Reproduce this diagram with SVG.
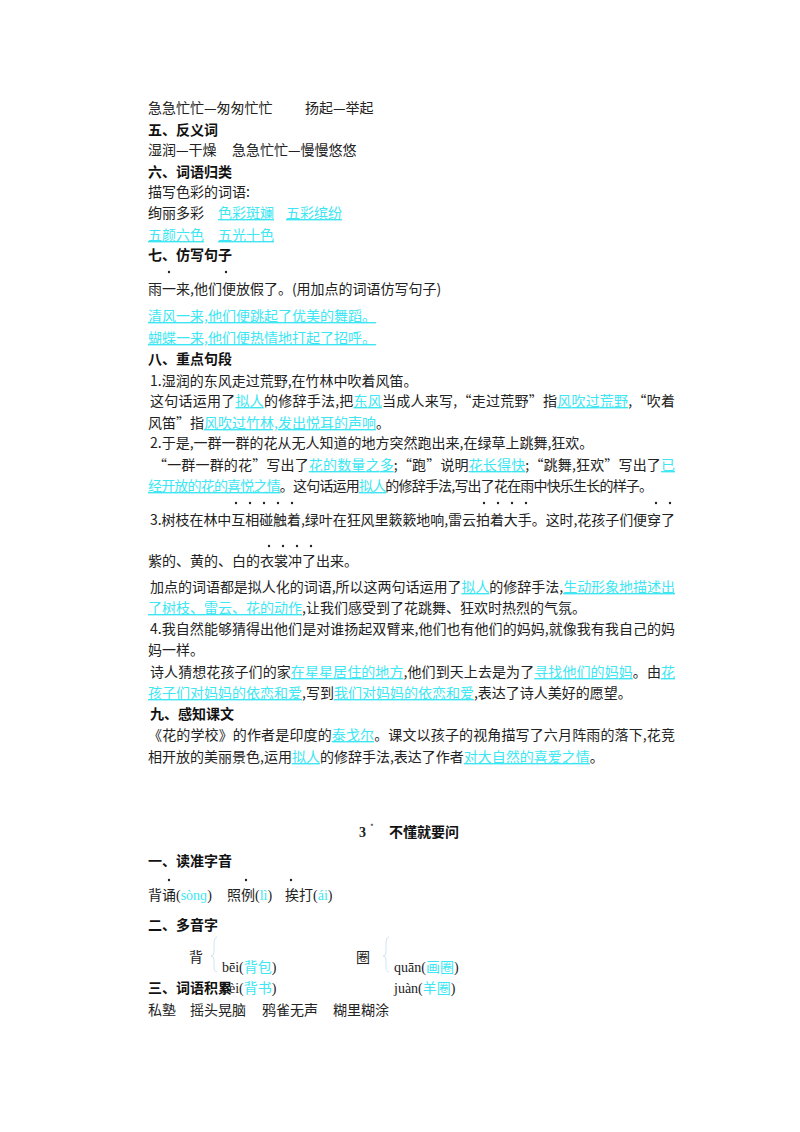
<svg xmlns="http://www.w3.org/2000/svg" width="800" height="1132" viewBox="0 0 800 1132">
<style>
text{font-family:"Noto Sans CJK SC","Liberation Sans",sans-serif;font-size:14px;fill:#222}
.h{font-weight:bold;fill:#111}
.c{fill:#3de6f2;text-decoration:underline}
.p{font-family:"Liberation Serif","Noto Sans CJK SC",serif}
.pc{fill:#3de6f2}
circle{fill:#222}
</style>
<rect width="800" height="1132" fill="#fff"/>
<text x="148" y="113">急急忙忙—匆匆忙忙<tspan x="305">扬起—举起</tspan></text>
<text class="h" x="148" y="135">五、反义词</text>
<text x="148" y="155">湿润—干燥<tspan x="232">急急忙忙—慢慢悠悠</tspan></text>
<text class="h" x="148" y="177">六、词语归类</text>
<text x="148" y="197">描写色彩的词语:</text>
<text x="148" y="218">绚丽多彩<tspan class="c" x="218">色彩斑斓</tspan><tspan class="c" x="286">五彩缤纷</tspan></text>
<text x="148" y="240"><tspan class="c">五颜六色</tspan><tspan class="c" x="218">五光十色</tspan></text>
<text class="h" x="148" y="260">七、仿写句子</text>
<circle cx="169" cy="272" r="1.2"/><circle cx="226" cy="272" r="1.2"/>
<text x="148" y="294">雨一来,他们便放假了。(用加点的词语仿写句子)</text>
<text class="c" x="148" y="321">清风一来,他们便跳起了优美的舞蹈。</text>
<text class="c" x="148" y="343">蝴蝶一来,他们便热情地打起了招呼。</text>
<text class="h" x="148" y="364">八、重点句段</text>
<text x="150" y="386">1.湿润的东风走过荒野,在竹林中吹着风笛。</text>
<text x="150" y="406" textLength="525" lengthAdjust="spacing">这句话运用了<tspan class="c">拟人</tspan>的修辞手法,把<tspan class="c">东风</tspan>当成人来写,“走过荒野”指<tspan class="c">风吹过荒野</tspan>,“吹着</text>
<text x="148" y="428">风笛”指<tspan class="c">风吹过竹林,发出悦耳的声响</tspan>。</text>
<text x="150" y="448">2.于是,一群一群的花从无人知道的地方突然跑出来,在绿草上跳舞,狂欢。</text>
<text x="153" y="470" textLength="522" lengthAdjust="spacing">“一群一群的花”写出了<tspan class="c">花的数量之多</tspan>;“跑”说明<tspan class="c">花长得快</tspan>;“跳舞,狂欢”写出了<tspan class="c">已</tspan></text>
<text x="148" y="491" textLength="505" lengthAdjust="spacing"><tspan class="c">经开放的花的喜悦之情</tspan>。这句话运用<tspan class="c">拟人</tspan>的修辞手法,写出了花在雨中快乐生长的样子。</text>
<g><circle cx="236" cy="503" r="1.2"/><circle cx="250" cy="503" r="1.2"/><circle cx="264" cy="503" r="1.2"/><circle cx="278" cy="503" r="1.2"/><circle cx="292" cy="503" r="1.2"/><circle cx="484" cy="503" r="1.2"/><circle cx="498" cy="503" r="1.2"/><circle cx="512" cy="503" r="1.2"/><circle cx="526" cy="503" r="1.2"/><circle cx="656" cy="503" r="1.2"/><circle cx="670" cy="503" r="1.2"/></g>
<text x="150" y="525" textLength="525" lengthAdjust="spacing">3.树枝在林中互相碰触着,绿叶在狂风里簌簌地响,雷云拍着大手。这时,花孩子们便穿了</text>
<g><circle cx="269" cy="546" r="1.2"/><circle cx="283" cy="546" r="1.2"/><circle cx="297" cy="546" r="1.2"/><circle cx="311" cy="546" r="1.2"/></g>
<text x="148" y="566">紫的、黄的、白的衣裳冲了出来。</text>
<text x="150" y="592" textLength="525" lengthAdjust="spacing">加点的词语都是拟人化的词语,所以这两句话运用了<tspan class="c">拟人</tspan>的修辞手法,<tspan class="c">生动形象地描述出</tspan></text>
<text x="148" y="613"><tspan class="c">了树枝、雷云、花的动作</tspan>,让我们感受到了花跳舞、狂欢时热烈的气氛。</text>
<text x="150" y="634" textLength="525" lengthAdjust="spacing">4.我自然能够猜得出他们是对谁扬起双臂来,他们也有他们的妈妈,就像我有我自己的妈</text>
<text x="148" y="655">妈一样。</text>
<text x="150" y="677" textLength="525" lengthAdjust="spacing">诗人猜想花孩子们的家<tspan class="c">在星星居住的地方</tspan>,他们到天上去是为了<tspan class="c">寻找他们的妈妈</tspan>。由<tspan class="c">花</tspan></text>
<text x="148" y="698"><tspan class="c">孩子们对妈妈的依恋和爱</tspan>,写到<tspan class="c">我们对妈妈的依恋和爱</tspan>,表达了诗人美好的愿望。</text>
<text class="h" x="150" y="719">九、感知课文</text>
<text x="148" y="740" textLength="527" lengthAdjust="spacing">《花的学校》的作者是印度的<tspan class="c">泰戈尔</tspan>。课文以孩子的视角描写了六月阵雨的落下,花竞</text>
<text x="148" y="762">相开放的美丽景色,运用<tspan class="c">拟人</tspan>的修辞手法,表达了作者<tspan class="c">对大自然的喜爱之情</tspan>。</text>
<text x="359" y="837" class="p" style="font-weight:bold">3</text><text x="370" y="830" style="font-size:8px">*</text>
<text class="h" x="389" y="837">不懂就要问</text>
<text class="h" x="148" y="866">一、读准字音</text>
<circle cx="169" cy="880" r="1.2"/><circle cx="246" cy="880" r="1.2"/><circle cx="291" cy="880" r="1.2"/>
<text x="148" y="900">背诵<tspan class="p">(</tspan><tspan class="p pc">sònɡ</tspan><tspan class="p">)</tspan><tspan x="227">照例</tspan><tspan class="p">(</tspan><tspan class="p pc">lì</tspan><tspan class="p">)</tspan><tspan x="285">挨打</tspan><tspan class="p">(</tspan><tspan class="p pc">ái</tspan><tspan class="p">)</tspan></text>
<text class="h" x="148" y="930">二、多音字</text>
<text x="189" y="962">背</text>
<text x="356" y="962">圈</text>
<path d="M217 937 Q214 937 214 945 L214 952 Q214 956 211 956 Q214 956 214 960 L214 967 Q214 972 217 972" fill="none" stroke="#cfe6ee" stroke-width="1"/>
<path d="M389 937 Q386 937 386 945 L386 952 Q386 956 383 956 Q386 956 386 960 L386 967 Q386 972 389 972" fill="none" stroke="#cfe6ee" stroke-width="1"/>
<text x="222" y="972"><tspan class="p">bēi(</tspan><tspan class="pc">背包</tspan><tspan class="p">)</tspan></text>
<text x="394" y="972"><tspan class="p">quān(</tspan><tspan class="pc">画圈</tspan><tspan class="p">)</tspan></text>
<text x="222" y="993"><tspan class="p">bèi(</tspan><tspan class="pc">背书</tspan><tspan class="p">)</tspan></text>
<text x="394" y="993"><tspan class="p">juàn(</tspan><tspan class="pc">羊圈</tspan><tspan class="p">)</tspan></text>
<text class="h" x="148" y="993">三、词语积累</text>
<text x="148" y="1015">私塾<tspan x="190">摇头晃脑</tspan><tspan x="262">鸦雀无声</tspan><tspan x="333">糊里糊涂</tspan></text>
</svg>
